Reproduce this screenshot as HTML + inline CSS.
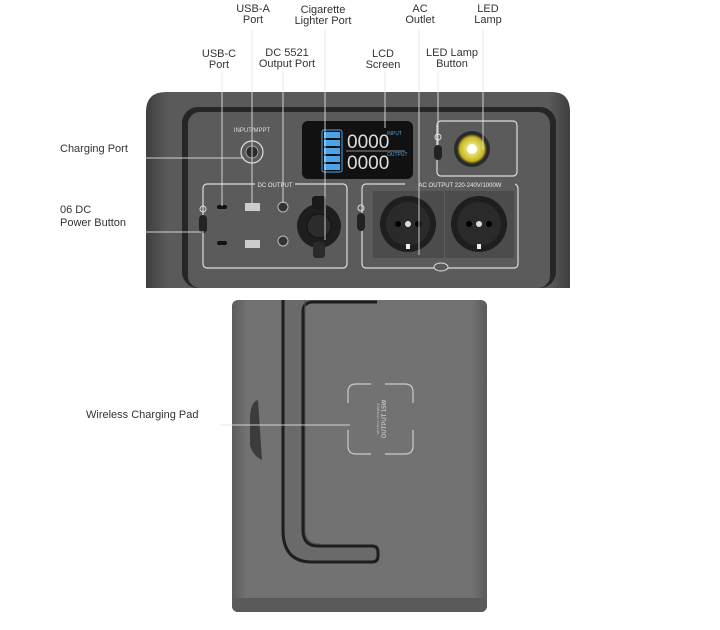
<!DOCTYPE html>
<html><head><meta charset="utf-8"><style>
html,body{margin:0;padding:0;background:#fff;}
svg{display:block;}
text{font-family:"Liberation Sans",sans-serif;fill:#333;}
</style></head><body>
<svg width="720" height="630" viewBox="0 0 720 630" xmlns="http://www.w3.org/2000/svg">
<defs>
<linearGradient id="bodyg" x1="0" x2="1">
<stop offset="0" stop-color="#3e3e3e"/><stop offset="0.05" stop-color="#5a5a5a"/><stop offset="0.95" stop-color="#5a5a5a"/><stop offset="1" stop-color="#3e3e3e"/>
</linearGradient>
<linearGradient id="lowg" x1="0" x2="1">
<stop offset="0" stop-color="#5c5c5c"/><stop offset="0.06" stop-color="#727272"/><stop offset="0.94" stop-color="#727272"/><stop offset="1" stop-color="#5a5a5a"/>
</linearGradient>
<radialGradient id="lamp"><stop offset="0" stop-color="#fffbe0"/><stop offset="0.35" stop-color="#e8e070"/><stop offset="0.8" stop-color="#c8b820"/><stop offset="1" stop-color="#2a2a2a"/></radialGradient>
</defs>

<path d="M146,288 L146,112 Q146,92 166,92 L552,92 Q570,92 570,112 L570,288 Z" fill="url(#bodyg)"/>
<rect x="182" y="107" width="374" height="181" rx="16" fill="#262626"/>
<rect x="188" y="112" width="362" height="176" rx="12" fill="#5b5b5b"/>
<text x="252" y="132" font-size="6" style="fill:#ddd" text-anchor="middle">INPUT/MPPT</text>
<circle cx="252" cy="152" r="11" fill="none" stroke="#ddd" stroke-width="1.2"/>
<circle cx="252" cy="152" r="6" fill="#2a2a2a" stroke="#999"/>
<rect x="302" y="121" width="111" height="58" rx="6" fill="#111"/>
<rect x="322" y="130" width="20" height="42" rx="2" fill="none" stroke="#4aa3e8" stroke-width="1"/>
<g fill="#4aa3e8"><rect x="324" y="132" width="16" height="6"/><rect x="324" y="140" width="16" height="6"/><rect x="324" y="148" width="16" height="6"/><rect x="324" y="156" width="16" height="6"/><rect x="324" y="164" width="16" height="6"/></g>
<text x="347" y="148" font-size="19" style="fill:#ddd">0000</text>
<text x="347" y="169" font-size="19" style="fill:#ddd">0000</text>
<line x1="346" y1="151" x2="405" y2="151" stroke="#888" stroke-width="1"/>
<text x="387" y="135" font-size="5" style="fill:#4aa3e8">INPUT</text>
<text x="387" y="156" font-size="5" style="fill:#4aa3e8">OUTPUT</text>
<rect x="437" y="121" width="80" height="55" rx="4" fill="none" stroke="#ddd" stroke-width="1.2"/>
<rect x="434" y="145" width="8" height="15" rx="4" fill="#222"/>
<circle cx="438" cy="137" r="3" fill="none" stroke="#ddd"/>
<circle cx="472" cy="149" r="18" fill="#2a2a2a"/>
<circle cx="472" cy="149" r="15" fill="url(#lamp)"/>
<circle cx="472" cy="149" r="5" fill="#fff"/>
<rect x="203" y="184" width="144" height="84" rx="4" fill="none" stroke="#ddd" stroke-width="1.2"/>
<rect x="255" y="180" width="40" height="8" fill="#5b5b5b"/>
<text x="275" y="187" font-size="6" style="fill:#eee" text-anchor="middle">DC OUTPUT</text>
<rect x="199" y="215" width="8" height="18" rx="4" fill="#222"/>
<circle cx="203" cy="209" r="3" fill="none" stroke="#ddd"/>
<rect x="217" y="205" width="10" height="4" rx="2" fill="#111"/>
<rect x="217" y="241" width="10" height="4" rx="2" fill="#111"/>
<rect x="245" y="203" width="15" height="8" fill="#ccc"/>
<rect x="245" y="240" width="15" height="8" fill="#ccc"/>
<circle cx="283" cy="207" r="5" fill="#333" stroke="#bbb"/>
<circle cx="283" cy="241" r="5" fill="#333" stroke="#bbb"/>
<circle cx="319" cy="226" r="22" fill="#1e1e1e"/>
<circle cx="319" cy="226" r="12" fill="#2c2c2c" stroke="#111"/>
<rect x="312" y="196" width="14" height="14" rx="3" fill="#1a1a1a"/>
<rect x="313" y="242" width="12" height="16" rx="3" fill="#2a2a2a"/>
<rect x="362" y="184" width="156" height="84" rx="4" fill="none" stroke="#ddd" stroke-width="1.2"/>
<rect x="405" y="180" width="110" height="8" fill="#5b5b5b"/>
<text x="460" y="187" font-size="6" style="fill:#eee" text-anchor="middle">AC OUTPUT 220-240V/1000W</text>
<rect x="357" y="213" width="8" height="18" rx="4" fill="#222"/>
<circle cx="361" cy="208" r="3" fill="none" stroke="#ddd"/>
<rect x="373" y="191" width="71" height="67" fill="#4c4c4c"/>
<rect x="445" y="191" width="69" height="67" fill="#4c4c4c"/>
<circle cx="408" cy="224" r="28" fill="#1e1e1e"/>
<circle cx="479" cy="224" r="28" fill="#1e1e1e"/>
<circle cx="408" cy="224" r="22" fill="#2a2a2a"/>
<circle cx="479" cy="224" r="22" fill="#2a2a2a"/>
<circle cx="398" cy="224" r="3" fill="#000"/><circle cx="418" cy="224" r="3" fill="#000"/><circle cx="408" cy="224" r="3" fill="#ddd"/>
<circle cx="469" cy="224" r="3" fill="#000"/><circle cx="489" cy="224" r="3" fill="#000"/><circle cx="479" cy="224" r="3" fill="#ddd"/>
<rect x="406" y="244" width="4" height="5" fill="#eee"/><rect x="477" y="244" width="4" height="5" fill="#eee"/>
<ellipse cx="441" cy="267" rx="7" ry="4" fill="#5b5b5b" stroke="#ddd"/>

<rect x="232" y="300" width="255" height="312" rx="6" fill="url(#lowg)"/>
<rect x="232" y="598" width="255" height="14" rx="6" fill="#5a5a5a"/>
<path d="M258,400 Q250,402 250,420 L250,445 Q252,455 262,460 Z" fill="#3c3c3c"/>
<path d="M283,300 L283,530 Q283,562 312,562 L372,562 Q378,562 378,556 L378,552 Q378,546 372,546 L318,546 Q303,546 303,530 L303,312 Q303,302 313,302 L377,302" fill="#6a6a6a" stroke="#1e1e1e" stroke-width="3"/>
<path d="M305,300 L305,530 Q305,544 320,544" fill="none" stroke="#555" stroke-width="1"/>
<g fill="none" stroke="#c8ccd0" stroke-width="1.2">
<path d="M348,403 L348,392 Q348,384 356,384 L371,384"/>
<path d="M385,384 L405,384 Q413,384 413,392 L413,403"/>
<path d="M348,430 L348,446 Q348,454 356,454 L371,454"/>
<path d="M385,454 L405,454 Q413,454 413,446 L413,430"/>
</g>
<text transform="translate(386,419) rotate(-90)" font-size="6" style="fill:#ddd" text-anchor="middle">OUTPUT 15W</text>
<text transform="translate(379,419) rotate(-90)" font-size="4" style="fill:#bbb" text-anchor="middle">wireless charging</text>

<g stroke="#e6e6e6" stroke-width="1" opacity="0.85">
<line x1="222" y1="72" x2="222" y2="206"/>
<line x1="252" y1="30" x2="252" y2="204"/>
<line x1="283" y1="72" x2="283" y2="203"/>
<line x1="325" y1="30" x2="325" y2="240"/>
<line x1="385" y1="72" x2="385" y2="128"/>
<line x1="419" y1="30" x2="419" y2="255"/>
<line x1="438" y1="72" x2="438" y2="145"/>
<line x1="483" y1="30" x2="483" y2="150"/>
<line x1="145" y1="158" x2="244" y2="158"/>
<line x1="145" y1="232" x2="204" y2="232"/>
<line x1="220" y1="425" x2="350" y2="425"/>
</g>

<g font-size="11" text-anchor="middle">
<text x="253" y="12">USB-A</text><text x="253" y="23">Port</text>
<text x="323" y="13">Cigarette</text><text x="323" y="24">Lighter Port</text>
<text x="420" y="12">AC</text><text x="420" y="23">Outlet</text>
<text x="488" y="12">LED</text><text x="488" y="23">Lamp</text>
<text x="219" y="57">USB-C</text><text x="219" y="68">Port</text>
<text x="287" y="56">DC 5521</text><text x="287" y="67">Output Port</text>
<text x="383" y="57">LCD</text><text x="383" y="68">Screen</text>
<text x="452" y="56">LED Lamp</text><text x="452" y="67">Button</text>
</g>
<g font-size="11">
<text x="60" y="152">Charging Port</text>
<text x="60" y="213">06 DC</text>
<text x="60" y="226">Power Button</text>
<text x="86" y="418">Wireless Charging Pad</text>
</g>
</svg>
</body></html>
